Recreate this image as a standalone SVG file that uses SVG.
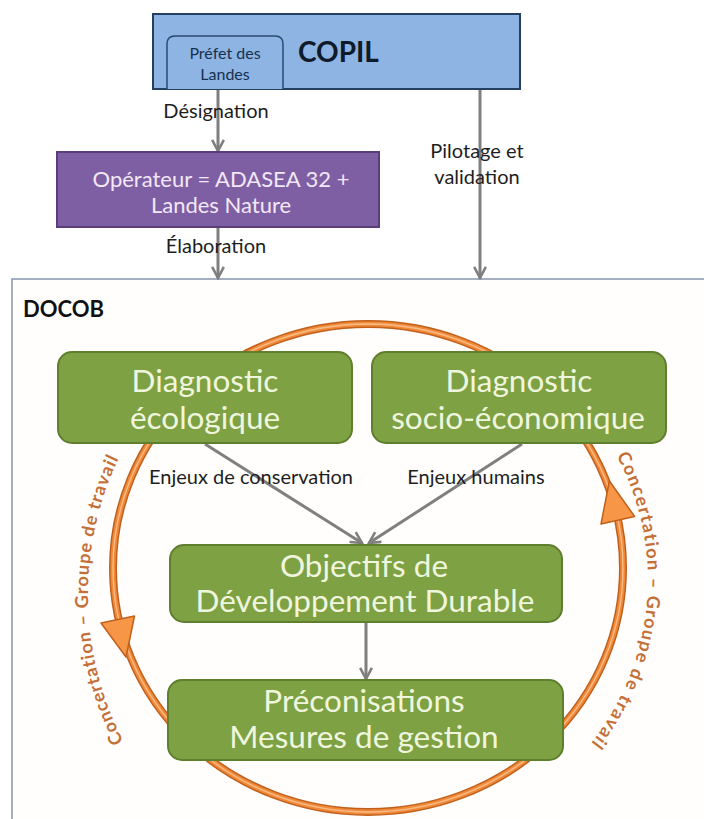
<svg xmlns="http://www.w3.org/2000/svg" width="704" height="819" viewBox="0 0 704 819">
<style>
text{font-family:Lato,"Liberation Sans",sans-serif}
.lbl{font-size:20px;fill:#1e1e1e}
.mid{text-anchor:middle}
.g{fill:#7ea144;stroke:#5f7e2e;stroke-width:2}
.gt{font-size:31.5px;fill:#f0f6dd;text-anchor:middle}
.conn{stroke:#7f7f7f;stroke-width:3;fill:none;marker-end:url(#ah)}
.arct{font-size:18px;font-weight:bold;fill:#c46f38;letter-spacing:1px}
.ahd{fill:#f79646;stroke:#c0601c;stroke-width:1.5;stroke-linejoin:round}
</style>
<defs>
<marker id="ah" viewBox="0 0 12 12" refX="10.5" refY="6" markerWidth="14" markerHeight="14" markerUnits="userSpaceOnUse" orient="auto">
<path d="M1,1 L10.5,6 L1,11" fill="none" stroke="#7f7f7f" stroke-width="2.2"/>
</marker>
<path id="tpL" d="M138.6,767 A280,300 0 0 1 133.2,431.6"/>
<path id="tpR" d="M602.8,433 A280,270 0 0 1 572.8,764"/>
</defs>
<rect width="704" height="819" fill="#ffffff"/>

<g id="docob">
<rect x="12" y="279" width="700" height="560" fill="#fffefc" stroke="#8496ae" stroke-width="1.5"/>
<text x="23" y="317" font-size="22" font-weight="bold" fill="#111">DOCOB</text>
</g>

<g id="cycle">
<ellipse cx="368" cy="568" rx="255" ry="244" fill="none" stroke="#c0601c" stroke-width="8"/>
<ellipse cx="368" cy="568" rx="255" ry="244" fill="none" stroke="#f08a3a" stroke-width="5"/>
<ellipse cx="368" cy="568" rx="255" ry="244" fill="none" stroke="#f9bd88" stroke-width="1.3"/>
<polygon class="ahd" points="101,623 134.5,616 126,657"/>
<polygon class="ahd" points="601,524 634.6,516.4 609.4,481"/>
<text class="arct"><textPath href="#tpL" startOffset="50%" text-anchor="middle">Concertation – Groupe de travail</textPath></text>
<text class="arct" style="letter-spacing:1.4px"><textPath href="#tpR" startOffset="50%" text-anchor="middle">Concertation – Groupe de travail</textPath></text>
</g>

<g id="connectors">
<line class="conn" x1="218" y1="89" x2="218" y2="151"/>
<line class="conn" x1="218" y1="227" x2="218" y2="278"/>
<line class="conn" x1="480" y1="89" x2="480" y2="278"/>
<line class="conn" x1="205" y1="444" x2="362" y2="543"/>
<line class="conn" x1="522" y1="444" x2="369" y2="543"/>
<line class="conn" x1="366" y1="622" x2="366" y2="679"/>
<text class="lbl mid" x="216" y="118">Désignation</text>
<text class="lbl mid" x="216" y="253">Élaboration</text>
<text class="lbl mid" x="477" y="158">Pilotage et</text>
<text class="lbl mid" x="477" y="184">validation</text>
<text class="lbl mid" x="251" y="484">Enjeux de conservation</text>
<text class="lbl mid" x="476" y="484">Enjeux humains</text>
</g>

<g id="copil">
<rect x="153" y="14" width="367" height="75" fill="#8db4e2" stroke="#243f60" stroke-width="2"/>
<path d="M167,89 V44 Q167,36 175,36 H275 Q283,36 283,44 V89" fill="#8db4e2" stroke="#2b4a70" stroke-width="1.5"/>
<text x="298" y="62" font-size="28" font-weight="bold" fill="#0f1a2a">COPIL</text>
</g>
<g id="prefet">
<text x="225" y="59" font-size="16" fill="#17304f" text-anchor="middle">Préfet des</text>
<text x="225" y="80" font-size="16" fill="#17304f" text-anchor="middle">Landes</text>
</g>

<g id="operateur">
<rect x="57" y="152" width="322" height="75" fill="#7f5fa3" stroke="#5a3e7a" stroke-width="2"/>
<text x="221" y="187" font-size="22" fill="#f2e8f8" text-anchor="middle">Opérateur = ADASEA 32 +</text>
<text x="221" y="213" font-size="22" fill="#f2e8f8" text-anchor="middle">Landes Nature</text>
</g>

<g id="diag-eco">
<rect class="g" x="58" y="352" width="294" height="91" rx="14"/>
<text class="gt" x="205" y="392">Diagnostic</text>
<text class="gt" x="205" y="429">écologique</text>
</g>
<g id="diag-socio">
<rect class="g" x="372" y="352" width="294" height="91" rx="14"/>
<text class="gt" x="519" y="392">Diagnostic</text>
<text class="gt" x="518" y="429">socio-économique</text>
</g>
<g id="objectifs">
<rect class="g" x="170" y="545" width="392" height="77" rx="14"/>
<text class="gt" x="364" y="577">Objectifs de</text>
<text class="gt" x="365" y="612">Développement Durable</text>
</g>
<g id="preconisations">
<rect class="g" x="168" y="680" width="395" height="80" rx="14"/>
<text class="gt" x="364" y="712">Préconisations</text>
<text class="gt" x="364" y="748">Mesures de gestion</text>
</g>
</svg>
